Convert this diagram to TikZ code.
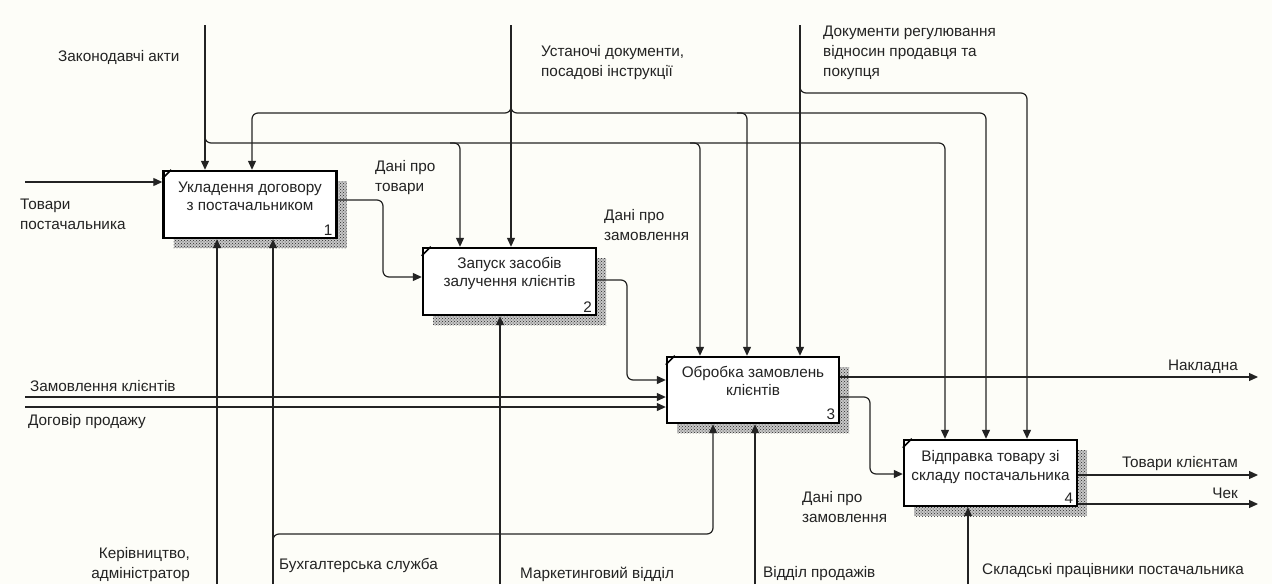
\documentclass[tikz,border=0pt]{standalone}
\usepackage{fontspec}
\setmainfont{Liberation Sans}
\usetikzlibrary{arrows.meta,patterns,positioning}
\definecolor{bg}{RGB}{253,253,248}
\definecolor{ink}{RGB}{35,35,35}
\begin{document}
\begin{tikzpicture}[x=1pt,y=-1pt,
  font=\fontsize{15.3}{20}\selectfont, text=ink,
  box/.style={draw=black, line width=2.4pt, fill=white, inner sep=0pt,
    minimum width=173pt, minimum height=67pt,
    preaction={fill=black!22, transform canvas={shift={(10pt,-10pt)}}},
    preaction={pattern=crosshatch dots, pattern color=black!85,
      transform canvas={shift={(10pt,-10pt)}}}},
  btext/.style={inner sep=0pt, align=center, anchor=north, font=\fontsize{15.3}{18.5}\selectfont},
  num/.style={inner sep=0pt, anchor=south east},
  conn/.style={draw=ink, line width=1.2pt, rounded corners=6pt},
  arr/.style={conn, -{Triangle[length=9pt,width=8pt]}},
  lab/.style={inner sep=0pt, align=left},
  tick/.style={draw=black, line width=1.6pt}]
\fill[bg] (0,0) rectangle (1272,584);
\useasboundingbox (0,0) rectangle (1272,584);

% boxes
\node[box] (b1) at (250,204.5) {};
\node[box] (b2) at (509.5,281.5) {};
\node[box, minimum width=172pt, minimum height=66pt] (b3) at (753,390) {};
\node[box, minimum height=66pt] (b4) at (990.5,473) {};
\foreach \b in {b1,b2,b3,b4}{
  \draw[tick] ([yshift=-9pt]\b.north west) -- ([xshift=9pt]\b.north west);
}
\node[btext, below=11.5pt of b1.north] (t1) {Укладення договору\\з постачальником};
\node[btext, below=10pt of b2.north] (t2) {Запуск засобів\\залучення клієнтів};
\node[btext, below=10pt of b3.north] (t3) {Обробка замовлень\\клієнтів};
\node[btext, below=11.5pt of b4.north] (t4) {Відправка товару зі\\складу постачальника};
\node[num] (n1) at ([xshift=-5pt,yshift=4pt]b1.south east) {1};
\node[num] (n2) at ([xshift=-5pt,yshift=4pt]b2.south east) {2};
\node[num] (n3) at ([xshift=-5pt,yshift=4pt]b3.south east) {3};
\node[num] (n4) at ([xshift=-5pt,yshift=4pt]b4.south east) {4};

% free ends
\coordinate (cZak) at (205,25);
\coordinate (cUst) at (511,25);
\coordinate (cDoc) at (800,25);
\coordinate (jZak) at (205,132);
\coordinate (jUst) at (511,102);
\coordinate (jDoc) at (800,84);
\coordinate (jA) at (450,143);
\coordinate (jB) at (690,143);
\coordinate (jC) at (737,113);
\coordinate (iTov) at (25,182);
\coordinate (iZam) at (25,397);
\coordinate (iDog) at (25,407);
\coordinate (mKer) at (217,584);
\coordinate (mBuh) at (273,584);
\coordinate (jBuh) at (273,544);
\coordinate (mMar) at (500,584);
\coordinate (mVid) at (755,584);
\coordinate (mSkl) at (968,584);
\coordinate (oNak) at (1258,377);
\coordinate (oTov) at (1258,475);
\coordinate (oChek) at (1258,504);

% controls
\draw[arr] (cZak) -- (cZak |- b1.north);
\draw[arr] (jZak) -- (205,143) -- (945,143) -- (945,0 |- b4.north);
\draw[arr] (jA) -- (460,143) -- (460,0 |- b2.north);
\draw[arr] (jB) -- (700,143) -- (700,0 |- b3.north);
\draw[arr] (cUst) -- (cUst |- b2.north);
\draw[arr] (jUst) -- (511,113) -- (252,113) -- (252,0 |- b1.north);
\draw[arr] (jUst) -- (511,113) -- (986,113) -- (986,0 |- b4.north);
\draw[arr] (jC) -- (747,113) -- (747,0 |- b3.north);
\draw[arr] (cDoc) -- (cDoc |- b3.north);
\draw[arr] (jDoc) -- (800,93) -- (1027,93) -- (1027,0 |- b4.north);

% inputs
\draw[arr] (iTov) -- (iTov -| b1.west);
\draw[arr] (b1.east |- 0,200) -- (383,200) -- (383,277) -- (b2.west |- 0,277);
\draw[arr] (b2.east |- 0,280) -- (627,280) -- (627,380) -- (b3.west |- 0,380);
\draw[arr] (iZam) -- (iZam -| b3.west);
\draw[arr] (iDog) -- (iDog -| b3.west);
\draw[arr] (b3.east |- 0,397) -- (870,397) -- (870,474) -- (b4.west |- 0,474);

% outputs
\draw[arr] (b3.east |- oNak) -- (oNak);
\draw[arr] (b4.east |- oTov) -- (oTov);
\draw[arr] (b4.east |- oChek) -- (oChek);

% mechanisms
\draw[arr] (mKer) -- (mKer |- b1.south);
\draw[arr] (mBuh) -- (mBuh |- b1.south);
\draw[arr] (jBuh) -- (273,534) -- (713,534) -- (713,0 |- b3.south);
\draw[arr] (mMar) -- (mMar |- b2.south);
\draw[arr] (mVid) -- (mVid |- b3.south);
\draw[arr] (mSkl) -- (mSkl |- b4.south);

% labels
\node[lab, anchor=west] (lZak) at (58,57) {Законодавчі акти};
\node[lab, anchor=north west] (lTov) at (20,199) {Товари\\постачальника};
\node[lab, anchor=north west] (lD1) at (375,160) {Дані про\\товари};
\node[lab, anchor=north west] (lUst) at (541,45) {Устаночі документи,\\посадові інструкції};
\node[lab, anchor=north west] (lDoc) at (823,26) {Документи регулювання\\відносин продавця та\\покупця};
\node[lab, anchor=north west] (lD2) at (604,209) {Дані про\\замовлення};
\node[lab, anchor=west] (lZam) at (30,386) {Замовлення клієнтів};
\node[lab, anchor=west] (lDog) at (28,422) {Договір продажу};
\node[lab, anchor=north east, align=right] (lKer) at (190,547) {Керівництво,\\адміністратор};
\node[lab, anchor=west] (lBuh) at (279,565) {Бухгалтерська служба};
\node[lab, anchor=west] (lMar) at (520,574) {Маркетинговий відділ};
\node[lab, anchor=west] (lVid) at (763,574) {Відділ продажів};
\node[lab, anchor=east] (lNak) at (1238,367) {Накладна};
\node[lab, anchor=east] (lTk) at (1238,464) {Товари клієнтам};
\node[lab, anchor=east] (lChek) at (1238,493) {Чек};
\node[lab, anchor=north west] (lD3) at (802,491) {Дані про\\замовлення};
\node[lab, anchor=west] (lSkl) at (982,571) {Складські працівники постачальника};
\end{tikzpicture}
\end{document}
